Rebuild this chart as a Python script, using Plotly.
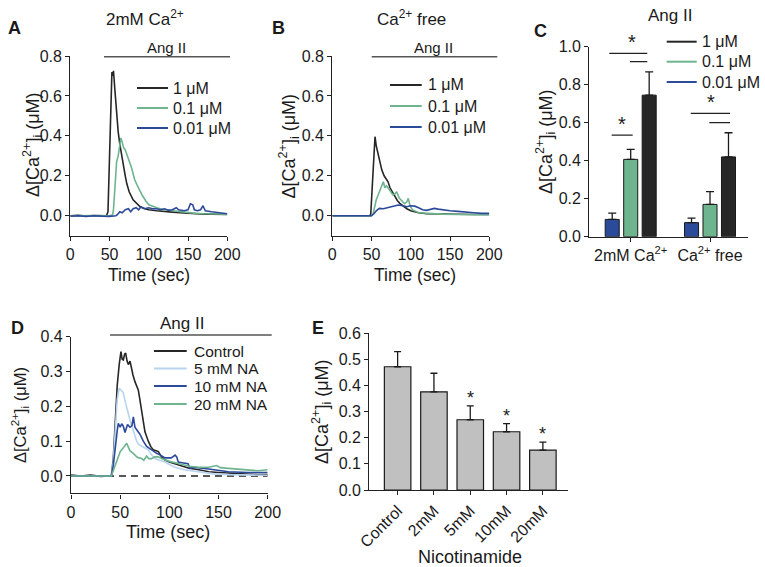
import plotly.graph_objects as go

W, H = 765, 567

# ---------------- DATA ----------------
# Panel A: 2mM Ca2+ traces (time s, delta Ca uM)
A_T_1UM = [0, 10, 20, 30, 40, 46, 48, 50, 52, 53, 54, 55, 57, 59, 61, 63, 65, 67, 70, 72, 75, 80, 85, 89, 95, 100, 110, 120, 130, 140, 150, 160, 170, 180, 190, 200]
A_V_1UM = [0.0, 0.002, -0.002, 0.001, 0.0, 0.0, 0.02, 0.35, 0.62, 0.72, 0.70, 0.726, 0.62, 0.50, 0.42, 0.36, 0.31, 0.26, 0.20, 0.16, 0.12, 0.08, 0.06, 0.045, 0.035, 0.03, 0.025, 0.02, 0.018, 0.015, 0.012, 0.01, 0.008, 0.008, 0.007, 0.006]
A_T_01UM = [0, 10, 20, 30, 40, 50, 54, 55, 57, 59, 61, 63, 64.5, 66, 68, 70, 72, 74, 76, 78, 80, 82, 85, 88, 92, 96, 100, 105, 110, 120, 130, 140, 150, 160, 170, 180, 190, 200]
A_V_01UM = [0.0, 0.001, -0.001, 0.0, 0.001, 0.0, 0.005, 0.03, 0.15, 0.27, 0.30, 0.35, 0.39, 0.37, 0.34, 0.33, 0.31, 0.29, 0.27, 0.24, 0.21, 0.18, 0.155, 0.13, 0.10, 0.075, 0.055, 0.048, 0.04, 0.03, 0.025, 0.02, 0.015, 0.012, 0.01, 0.01, 0.008, 0.008]
A_T_001UM = [0, 10, 20, 30, 40, 50, 58, 60, 63, 66, 70, 74, 77, 80, 84, 87, 90, 94, 100, 105, 110, 115, 120, 125, 130, 135, 138, 145, 150, 153, 156, 158, 162, 166, 169, 172, 180, 190, 200]
A_V_001UM = [-0.002, 0.0, -0.003, 0.0, -0.002, -0.003, 0.0, 0.005, 0.02, 0.015, 0.03, 0.035, 0.02, 0.035, 0.04, 0.03, 0.045, 0.035, 0.04, 0.035, 0.035, 0.03, 0.035, 0.028, 0.03, 0.04, 0.03, 0.025, 0.03, 0.06, 0.055, 0.03, 0.025, 0.03, 0.05, 0.025, 0.02, 0.015, 0.01]

# Panel B: Ca2+ free traces
B_T_1UM = [0, 20, 40, 48, 49, 50, 52, 54.4, 56, 58.6, 61, 63, 66, 69, 71, 73.5, 77, 80, 83, 86, 90, 95, 100, 110, 120, 140, 160, 180, 200]
B_V_1UM = [0.0, 0.0, 0.0, 0.0, 0.01, 0.08, 0.28, 0.396, 0.35, 0.30, 0.26, 0.23, 0.20, 0.18, 0.17, 0.14, 0.115, 0.095, 0.075, 0.062, 0.048, 0.035, 0.025, 0.015, 0.01, 0.008, 0.007, 0.006, 0.006]
B_T_01UM = [0, 20, 40, 50, 52, 54, 56, 58, 60, 63, 65, 67, 69, 71, 74, 77, 80, 82, 85, 88, 92, 95, 96.8, 99, 102, 110, 120, 140, 160, 180, 200]
B_V_01UM = [0.0, 0.0, 0.0, 0.0, 0.01, 0.05, 0.08, 0.10, 0.12, 0.14, 0.17, 0.14, 0.15, 0.14, 0.12, 0.105, 0.11, 0.12, 0.09, 0.075, 0.06, 0.07, 0.087, 0.05, 0.03, 0.015, 0.012, 0.008, 0.006, 0.005, 0.005]
B_T_001UM = [0, 20, 40, 50, 53, 56, 60, 65, 70, 75, 80, 84, 90, 95, 100, 105, 110, 115, 120, 125, 130, 135, 140, 150, 160, 170, 180, 190, 200]
B_V_001UM = [0.0, 0.0, 0.0, 0.0, 0.01, 0.025, 0.037, 0.035, 0.04, 0.045, 0.05, 0.054, 0.05, 0.045, 0.05, 0.048, 0.04, 0.03, 0.027, 0.033, 0.037, 0.033, 0.03, 0.025, 0.022, 0.02, 0.015, 0.012, 0.012]

# Panel C: peak responses (mean, SEM)
C_GROUPS = ["2mM Ca<sup>2+</sup>", "Ca<sup>2+</sup> free"]
C_DOSES = ["1 μM", "0.1 μM", "0.01 μM"]
C_MEAN_1UM = [0.745, 0.42]
C_ERR_1UM = [0.123, 0.127]
C_MEAN_01UM = [0.407, 0.17]
C_ERR_01UM = [0.053, 0.067]
C_MEAN_001UM = [0.091, 0.074]
C_ERR_001UM = [0.033, 0.024]

# Panel D: nicotinamide traces
D_T_CTRL = [0, 10, 20, 30, 38, 41, 43, 45, 47, 49, 50.8, 52, 53.2, 54.5, 55.6, 57, 58.3, 60, 61.7, 63, 65, 68.4, 70, 71.9, 73.5, 75.2, 78.6, 81, 83.7, 88.8, 92, 95.6, 100, 110, 120, 130, 140, 150, 160, 170, 180, 190, 200]
D_V_CTRL = [0.003, 0.0, 0.003, -0.001, 0.0, 0.0, 0.05, 0.17, 0.26, 0.32, 0.357, 0.335, 0.333, 0.35, 0.353, 0.33, 0.32, 0.33, 0.30, 0.29, 0.271, 0.247, 0.22, 0.185, 0.15, 0.127, 0.10, 0.085, 0.075, 0.07, 0.055, 0.046, 0.04, 0.03, 0.022, 0.018, 0.012, 0.01, 0.008, 0.006, 0.005, 0.004, 0.004]
D_T_5MM = [0, 20, 38, 41, 43, 45, 47, 49, 51, 53, 55, 56.6, 58, 60, 63.4, 66.8, 69, 72, 75, 78.6, 82, 85.4, 90, 95.6, 100, 105.8, 115, 130, 145, 160, 180, 200]
D_V_5MM = [0.0, 0.0, 0.0, 0.0, 0.04, 0.15, 0.22, 0.252, 0.245, 0.24, 0.215, 0.195, 0.18, 0.16, 0.13, 0.10, 0.09, 0.085, 0.08, 0.075, 0.06, 0.05, 0.045, 0.04, 0.033, 0.025, 0.018, 0.012, 0.006, 0.004, 0.002, 0.002]
D_T_10MM = [0, 20, 38, 41, 43, 45, 47, 48.1, 50, 51.5, 53.2, 54.9, 57.5, 59.9, 62, 63.4, 65, 67.5, 70.1, 73.5, 76.9, 82, 87, 91, 95.6, 102, 105.8, 107.5, 109, 113, 119, 121, 125, 140, 160, 180, 200]
D_V_10MM = [0.0, 0.0, 0.0, 0.0, 0.03, 0.09, 0.13, 0.151, 0.14, 0.15, 0.143, 0.125, 0.148, 0.14, 0.145, 0.17, 0.14, 0.13, 0.12, 0.10, 0.085, 0.075, 0.065, 0.06, 0.052, 0.052, 0.06, 0.055, 0.04, 0.038, 0.035, 0.022, 0.025, 0.02, 0.012, 0.01, 0.01]
D_T_20MM = [0, 20, 38, 41, 43, 46, 50, 53, 56.6, 58, 60, 63.4, 66.8, 69, 72, 74, 76.9, 79, 82, 85, 88.8, 92, 96, 100, 110, 120, 130, 140, 148, 152, 160, 170, 180, 190, 200]
D_V_20MM = [0.0, 0.0, 0.0, 0.0, 0.015, 0.04, 0.07, 0.08, 0.094, 0.085, 0.072, 0.065, 0.055, 0.052, 0.05, 0.045, 0.057, 0.05, 0.05, 0.055, 0.055, 0.05, 0.045, 0.042, 0.035, 0.028, 0.025, 0.025, 0.03, 0.024, 0.022, 0.02, 0.018, 0.015, 0.018]
D_BASE_T = [0, 200]
D_BASE_V = [0, 0]
D_NAMES = ["Control", "5 mM NA", "10 mM NA", "20 mM NA"]

# Panel E: nicotinamide peak responses
E_CATS = ["Control", "2mM", "5mM", "10mM", "20mM"]
E_MEAN = [0.472, 0.376, 0.269, 0.223, 0.153]
E_ERR = [0.058, 0.071, 0.053, 0.031, 0.030]
E_SIG = ["", "", "*", "*", "*"]

# ---------------- STYLE ----------------
FONT = "Liberation Sans, Arial, Helvetica, sans-serif"
TXT = "#1a1a1a"
AX = "#222222"
BLACK = "#262626"
GREEN = "#6db48f"
BLUE = "#2c4a9a"
LBLUE = "#b8d4ee"
GREY_BAR = "#c0c0c0"
STIM = "#555555"


def px(x):
    return x / W


def py(y):
    return 1 - y / H


fig = go.Figure()

# Panel A
for t, v, c, n in [(A_T_1UM, A_V_1UM, BLACK, "1 μM"), (A_T_01UM, A_V_01UM, GREEN, "0.1 μM"), (A_T_001UM, A_V_001UM, BLUE, "0.01 μM")]:
    fig.add_trace(go.Scatter(x=t, y=v, mode="lines", line=dict(color=c, width=1.6), name=n, showlegend=False, xaxis="x", yaxis="y"))
# Panel B
for t, v, c, n in [(B_T_1UM, B_V_1UM, BLACK, "1 μM"), (B_T_01UM, B_V_01UM, GREEN, "0.1 μM"), (B_T_001UM, B_V_001UM, BLUE, "0.01 μM")]:
    fig.add_trace(go.Scatter(x=t, y=v, mode="lines", line=dict(color=c, width=1.6), name=n, showlegend=False, xaxis="x2", yaxis="y2"))

# Panel C bars
C_W = 0.177
C_STEP = 0.233
for i, (m, e, c) in enumerate([(C_MEAN_001UM, C_ERR_001UM, BLUE), (C_MEAN_01UM, C_ERR_01UM, GREEN), (C_MEAN_1UM, C_ERR_1UM, BLACK)]):
    fig.add_trace(go.Bar(
        x=C_GROUPS, y=m, width=C_W, offset=(i - 1) * C_STEP - C_W / 2,
        marker=dict(color=c, line=dict(color="#1a1a1a", width=1)),
        error_y=dict(type="data", array=e, arrayminus=[0] * len(e), symmetric=False,
                     color="#1a1a1a", thickness=1.3, width=4),
        showlegend=False, xaxis="x3", yaxis="y3"))

# Panel D
fig.add_trace(go.Scatter(x=D_BASE_T, y=D_BASE_V, mode="lines", line=dict(color="#222", width=1.3, dash="7px,5px"), showlegend=False, xaxis="x4", yaxis="y4"))
for t, v, c, n in [(D_T_CTRL, D_V_CTRL, BLACK, D_NAMES[0]), (D_T_5MM, D_V_5MM, LBLUE, D_NAMES[1]), (D_T_10MM, D_V_10MM, BLUE, D_NAMES[2]), (D_T_20MM, D_V_20MM, GREEN, D_NAMES[3])]:
    fig.add_trace(go.Scatter(x=t, y=v, mode="lines", line=dict(color=c, width=1.6), name=n, showlegend=False, xaxis="x4", yaxis="y4"))

# Panel E
fig.add_trace(go.Bar(
    x=E_CATS, y=E_MEAN, width=0.73,
    marker=dict(color=GREY_BAR, line=dict(color="#1a1a1a", width=1.2)),
    error_y=dict(type="data", array=E_ERR, arrayminus=[0] * len(E_ERR), symmetric=False,
                 color="#1a1a1a", thickness=1.3, width=3.5),
    showlegend=False, xaxis="x5", yaxis="y5"))

axis_common = dict(showline=True, linecolor=AX, linewidth=1.3, ticks="outside", ticklen=4,
                   tickwidth=1.2, tickcolor=AX, showgrid=False, zeroline=False, automargin=False,
                   tickfont=dict(size=16, color=TXT, family=FONT))

layout = dict(
    width=W, height=H, margin=dict(l=0, r=0, t=0, b=0, autoexpand=False),
    paper_bgcolor="white", plot_bgcolor="white",
    font=dict(family=FONT, color=TXT, size=16),
    barmode="overlay", showlegend=False,
    xaxis=dict(axis_common, domain=[px(70.3), px(227.3)], range=[0, 200], tickvals=[0, 50, 100, 150, 200], anchor="y"),
    yaxis=dict(axis_common, domain=[py(235.7), py(56)], range=[-0.1, 0.8], tickvals=[0, 0.2, 0.4, 0.6, 0.8], tickformat=".1f", anchor="x"),
    xaxis2=dict(axis_common, domain=[px(332.3), px(489.3)], range=[0, 200], tickvals=[0, 50, 100, 150, 200], anchor="y2"),
    yaxis2=dict(axis_common, domain=[py(235.7), py(56)], range=[-0.1, 0.8], tickvals=[0, 0.2, 0.4, 0.6, 0.8], tickformat=".1f", anchor="x2"),
    xaxis3=dict(axis_common, domain=[px(589.3), px(748)], type="category", range=[-0.522, 1.479], anchor="y3"),
    yaxis3=dict(axis_common, domain=[py(236.7), py(46.7)], range=[0, 1.0], tickvals=[0, 0.2, 0.4, 0.6, 0.8, 1.0], tickformat=".1f", anchor="x3"),
    xaxis4=dict(axis_common, domain=[px(71), px(267.7)], range=[0, 200], tickvals=[0, 50, 100, 150, 200], anchor="y4"),
    yaxis4=dict(axis_common, domain=[py(493.4), py(336.7)], range=[-0.05, 0.4], tickvals=[0, 0.1, 0.2, 0.3, 0.4], tickformat=".1f", anchor="x4"),
    xaxis5=dict(axis_common, domain=[px(369.3), px(568.3)], type="category", range=[-0.78, 4.7], tickangle=-45, anchor="y5"),
    yaxis5=dict(axis_common, domain=[py(490), py(333.3)], range=[0, 0.6], tickvals=[0, 0.1, 0.2, 0.3, 0.4, 0.5, 0.6], tickformat=".1f", anchor="x5"),
)
fig.update_layout(**layout)

ann = []
shapes = []


def text(x, y, s, size=16, xa="center", ya="middle", angle=0, bold=False):
    ann.append(dict(x=px(x), y=py(y), xref="paper", yref="paper", text=("<b>%s</b>" % s) if bold else s,
                    showarrow=False, xanchor=xa, yanchor=ya, textangle=angle,
                    font=dict(size=size, color=TXT, family=FONT)))


def hline(x0, x1, y, color, width):
    shapes.append(dict(type="line", xref="paper", yref="paper", x0=px(x0), x1=px(x1), y0=py(y), y1=py(y),
                       line=dict(color=color, width=width)))


# Panel letters
text(14.7, 27.5, "A", 18, bold=True)
text(278.3, 27.5, "B", 18, bold=True)
text(540, 31, "C", 18, bold=True)
text(17.5, 328.3, "D", 18, bold=True)
text(317.5, 327.5, "E", 18, bold=True)

# Titles
text(145, 18, "2mM Ca<sup>2+</sup>", 17)
text(411, 18, "Ca<sup>2+</sup> free", 17)
text(670, 15, "Ang II", 17)

# Y titles
YT = "Δ[Ca<sup>2+</sup>]<sub>i</sub> (μM)"
text(33, 145, YT, 18, angle=-90)
text(288.5, 146, YT, 18, angle=-90)
text(545, 142, YT, 18, angle=-90)
text(19.5, 415.5, YT, 16.5, angle=-90)
text(321, 412, YT, 18, angle=-90)

# X titles
text(149, 275, "Time (sec)", 17.5)
text(415, 275, "Time (sec)", 17.5)
text(168, 531.7, "Time (sec)", 18)
text(470, 556.5, "Nicotinamide", 18)

# Ang II stimulus bars
hline(104, 230, 56.7, STIM, 1.6)
text(166, 47, "Ang II", 15)
hline(371.7, 497.3, 56.7, STIM, 1.6)
text(433, 47, "Ang II", 15)
hline(110, 271.7, 335, STIM, 1.6)
text(181.7, 323, "Ang II", 17)

# Legends
def legend(ls, le, tx, rows, items, size=16):
    for yy, (name, col) in zip(rows, items):
        hline(ls, le, yy, col, 2)
        text(tx, yy, name, size, xa="left")


abc_items = [("1 μM", BLACK), ("0.1 μM", GREEN), ("0.01 μM", BLUE)]
legend(137, 168, 171, [88, 108, 128], abc_items)
legend(390, 421.7, 426, [85, 106, 127], abc_items)
legend(666.7, 696.7, 700, [41.7, 61.7, 82], abc_items)
legend(154, 186.7, 191.5, [351, 368.5, 386, 404], list(zip(D_NAMES, [BLACK, LBLUE, BLUE, GREEN])), 15.5)

# Significance in C (data coords)
C_SIG_LINES = [(-0.27, 0.209, 0.965), (-0.009, 0.209, 0.921), (-0.24, 0.025, 0.535),
               (0.757, 1.252, 0.649), (0.991, 1.252, 0.60)]
for x0, x1, y in C_SIG_LINES:
    shapes.append(dict(type="line", xref="x3", yref="y3", x0=x0, x1=x1, y0=y, y1=y,
                       line=dict(color="#222", width=1.3)))
for x, y in [(0.013, 0.965), (-0.113, 0.535), (1.009, 0.649)]:
    ann.append(dict(x=x, y=y, xref="x3", yref="y3", text="*", showarrow=False, xanchor="center",
                    yanchor="bottom", yshift=-2, font=dict(size=20, color=TXT, family=FONT)))

# Significance in E
for c, m, e, s in zip(E_CATS, E_MEAN, E_ERR, E_SIG):
    if s:
        ann.append(dict(x=c, y=m + e, xref="x5", yref="y5", text=s, showarrow=False, xanchor="center",
                        yanchor="bottom", yshift=-4, font=dict(size=18, color=TXT, family=FONT)))

fig.update_layout(annotations=ann, shapes=shapes)
fig.write_html("out.html", config={"displayModeBar": False},
               post_script="document.body.style.margin='0';document.body.style.padding='0';")
